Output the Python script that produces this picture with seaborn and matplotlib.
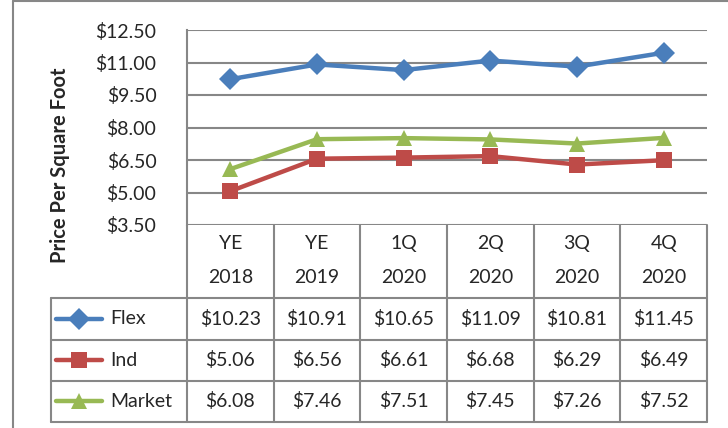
import numpy as np
import pandas as pd
import seaborn as sns
import matplotlib.pyplot as plt
from matplotlib.lines import Line2D

periods = ["YE\n2018", "YE\n2019", "1Q\n2020", "2Q\n2020", "3Q\n2020", "4Q\n2020"]
series_names = ["Flex", "Ind", "Market"]
flex = [10.23, 10.91, 10.65, 11.09, 10.81, 11.45]
ind = [5.06, 6.56, 6.61, 6.68, 6.29, 6.49]
market = [6.08, 7.46, 7.51, 7.45, 7.26, 7.52]
y_ticks = [3.5, 5.0, 6.5, 8.0, 9.5, 11.0, 12.5]

colors = {"Flex": "#4A7EBB", "Ind": "#BE4B48", "Market": "#98B954"}
markers = {"Flex": "D", "Ind": "s", "Market": "^"}
msizes = {"Flex": 11, "Ind": 11, "Market": 12}

values = {"Flex": flex, "Ind": ind, "Market": market}
df = pd.DataFrame({
    "idx": np.tile(np.arange(len(periods)), len(series_names)),
    "Series": np.repeat(series_names, len(periods)),
    "Price": flex + ind + market,
})

W, H = 728, 428
grid_c = "#878787"
sns.set_style("white")
plt.rcParams["font.family"] = ["Lato", "DejaVu Sans"]
fs = 14

fig = plt.figure(figsize=(W / 100, H / 100), dpi=100)

# plot area (pixel layout)
pl, pr, pt, pb = 187, 707, 30, 225
ax = fig.add_axes([pl / W, 1 - pb / H, (pr - pl) / W, (pb - pt) / H])
sns.lineplot(data=df, x="idx", y="Price", hue="Series", style="Series",
             markers=markers, dashes=False, palette=colors, lw=3.2,
             markeredgewidth=0, legend=False, sort=False, ax=ax, zorder=3)
for line, name in zip(ax.lines, series_names):
    line.set_markersize(msizes[name])
ax.set_xlim(-0.5, len(periods) - 0.5)
ax.set_ylim(y_ticks[0], y_ticks[-1])
ax.set_yticks(y_ticks)
ax.set_yticklabels([f"${v:.2f}" for v in y_ticks], fontsize=fs)
ax.tick_params(axis="y", length=0, pad=22)
ax.set_xticks([])
ax.set_xlabel("")
ax.set_ylabel("")
for v in y_ticks:
    ax.axhline(v, color=grid_c, lw=1.5, zorder=1)
for s in ["top", "right", "bottom"]:
    ax.spines[s].set_visible(False)
ax.spines["left"].set_color(grid_c)
ax.spines["left"].set_linewidth(1.5)

fig.text(60 / W, 1 - 165 / H, "Price Per Square Foot", rotation=90,
         ha="center", va="center", fontsize=14.5, fontweight="bold")

# data table below the plot
tl, tt, tb = 51, 225, 422
cw = (pr - pl) / len(periods)
tab = fig.add_axes([tl / W, 1 - tb / H, (pr - tl) / W, (tb - tt) / H])
x0 = -0.5 - (pl - tl) / cw
tab.set_xlim(x0, len(periods) - 0.5)
tab.set_ylim(tb, tt)
tab.axis("off")
rows = [tt, 298, 340, 381, tb]
for i in range(len(periods) + 1):
    tab.plot([i - 0.5, i - 0.5], [tt, tb], color=grid_c, lw=1.5, clip_on=False)
tab.plot([x0, x0], [rows[1], tb], color=grid_c, lw=1.5, clip_on=False)
for r in rows[1:]:
    tab.plot([x0, len(periods) - 0.5], [r, r], color=grid_c, lw=1.5, clip_on=False)
for i, p in enumerate(periods):
    top, bot = p.split("\n")
    tab.text(i, 244, top, ha="center", va="center", fontsize=fs)
    tab.text(i, 278, bot, ha="center", va="center", fontsize=fs)
for k, name in enumerate(series_names):
    yc = (rows[k + 1] + rows[k + 2]) / 2
    for i, v in enumerate(values[name]):
        tab.text(i, yc, f"${v:.2f}", ha="center", va="center", fontsize=fs)
    lx0 = x0 + 5 / cw
    lx1 = x0 + 51 / cw
    tab.plot([lx0, lx1], [yc, yc], color=colors[name], lw=3.2,
             solid_capstyle="round", clip_on=False)
    tab.plot([(lx0 + lx1) / 2], [yc], marker=markers[name], color=colors[name],
             markersize=msizes[name], markeredgewidth=0, clip_on=False)
    tab.text(x0 + 59 / cw, yc, name, ha="left", va="center", fontsize=fs)

# chart border
fig.add_artist(Line2D([13 / W, 13 / W], [0, 1 - 1 / H], color=grid_c, lw=1.5))
fig.add_artist(Line2D([13 / W, 1], [1 - 1 / H, 1 - 1 / H], color=grid_c, lw=1.5))

fig.savefig("out.png", dpi=100)
